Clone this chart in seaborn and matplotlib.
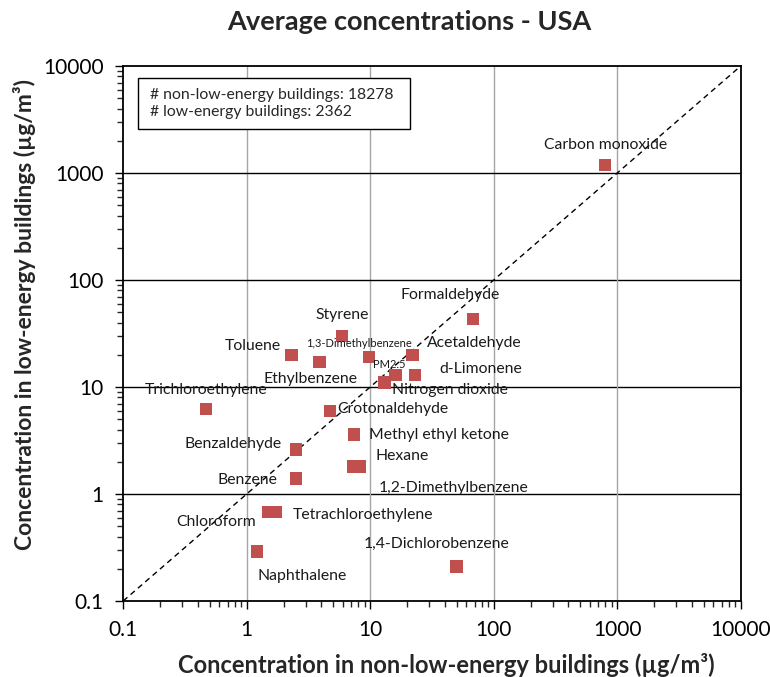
import matplotlib
matplotlib.use("Agg")
import matplotlib.pyplot as plt
import matplotlib.patches as mpatches
import seaborn as sns
import pandas as pd

# average concentrations (ug/m3)
compounds = ["Carbon monoxide", "Formaldehyde", "Styrene", "1,3-Dimethylbenzene",
             "Toluene", "Acetaldehyde", "Ethylbenzene", "PM2.5", "d-Limonene",
             "Nitrogen dioxide", "Trichloroethylene", "Crotonaldehyde",
             "Methyl ethyl ketone", "Benzaldehyde", "Hexane", "1,2-Dimethylbenzene",
             "Benzene", "Chloroform", "Tetrachloroethylene", "Naphthalene",
             "1,4-Dichlorobenzene"]
non_low_energy = [794, 68, 5.9, 9.8, 2.3, 22, 3.9, 16, 23, 13.1, 0.47, 4.7,
                  7.4, 2.5, 7.3, 8.3, 2.5, 1.5, 1.72, 1.21, 50]
low_energy = [1190, 43, 30, 19, 19.9, 20, 17.1, 12.9, 12.9, 11, 6.2, 6.0,
              3.6, 2.6, 1.8, 1.8, 1.4, 0.68, 0.68, 0.29, 0.21]
n_non_low = 18278
n_low = 2362

# label offsets in pixels (dx, dy) from each marker
label_offsets = {
    "Carbon monoxide": (1, 20), "Formaldehyde": (-23, 24), "Styrene": (0, 21),
    "1,3-Dimethylbenzene": (-10, 14), "Toluene": (-39, 9), "Acetaldehyde": (62, 12),
    "Ethylbenzene": (-9, -17), "PM2.5": (-6, 11), "d-Limonene": (66, 6),
    "Nitrogen dioxide": (65, -7), "Trichloroethylene": (0, 19),
    "Crotonaldehyde": (63, 2), "Methyl ethyl ketone": (85, -1),
    "Benzaldehyde": (-63, 6), "Hexane": (49, 11), "1,2-Dimethylbenzene": (93, -21),
    "Benzene": (-48, -2), "Chloroform": (-52, -10), "Tetrachloroethylene": (87, -3),
    "Naphthalene": (45, -25), "1,4-Dichlorobenzene": (-20, 23),
}
small_labels = {"1,3-Dimethylbenzene", "PM2.5"}

df = pd.DataFrame({"compound": compounds, "non_low": non_low_energy, "low": low_energy})

sns.set_style("white")
plt.rcParams["font.family"] = ["Lato", "DejaVu Sans"]

fig = plt.figure(figsize=(7.7, 6.77), dpi=100)
ax = fig.add_axes([0.16, 0.1123, 0.802, 0.7902])

ax.set_xscale("log")
ax.set_yscale("log")
ax.set_xlim(0.1, 10000)
ax.set_ylim(0.1, 10000)

ax.grid(False)
for v in [1, 10, 100, 1000]:
    ax.axvline(v, color="#a6a6a6", lw=1, zorder=0)
    ax.axhline(v, color="black", lw=1, zorder=0)

ax.axline((1, 1), (10, 10), color="black", lw=1, ls=(0, (4, 3)), zorder=1)

sns.scatterplot(data=df, x="non_low", y="low", marker="s", s=80, color="#c0504d",
                edgecolor="none", ax=ax, zorder=3, legend=False)

for name, x, y in zip(compounds, non_low_energy, low_energy):
    dx, dy = label_offsets[name]
    ax.annotate(name, (x, y), xytext=(dx, dy), textcoords="offset pixels",
                ha="center", va="center", fontsize=8 if name in small_labels else 11.3,
                color="#1a1a1a", zorder=4)

# sample-size box
ax.add_patch(mpatches.Rectangle((0.0243, 0.882), 0.440, 0.0956, transform=ax.transAxes,
                                facecolor="white", edgecolor="black", lw=1, zorder=5))
ax.text(0.0437, 0.930,
        f"# non-low-energy buildings: {n_non_low}\n# low-energy buildings: {n_low}",
        transform=ax.transAxes, ha="left", va="center", fontsize=11.3, linespacing=1.35,
        zorder=6)

ticks = [0.1, 1, 10, 100, 1000, 10000]
tick_labels = ["0.1", "1", "10", "100", "1000", "10000"]
ax.set_xticks(ticks)
ax.set_xticklabels(tick_labels)
ax.set_yticks(ticks)
ax.set_yticklabels(tick_labels)
ax.tick_params(axis="both", which="major", direction="out", length=6, width=1,
               labelsize=15, colors="black", bottom=True, left=True, pad=8)
ax.tick_params(axis="both", which="minor", direction="out", length=4, width=1,
               bottom=True, left=True)
for sp in ax.spines.values():
    sp.set_color("black")
    sp.set_linewidth(1.3)
ax.set_xlabel("")
ax.set_ylabel("")

fig.text(0.532, 0.967, "Average concentrations - USA", ha="center", va="center",
         fontsize=19.5, fontweight="bold")
fig.text(0.58, 0.018, "Concentration in non-low-energy buildings (\u00b5g/m\u00b3)",
         ha="center", va="center", fontsize=17, fontweight="bold")
fig.text(0.032, 0.535, "Concentration in low-energy buildings (\u00b5g/m\u00b3)",
         ha="center", va="center", rotation=90, fontsize=16.5, fontweight="bold")

fig.savefig("out.png", dpi=100)
